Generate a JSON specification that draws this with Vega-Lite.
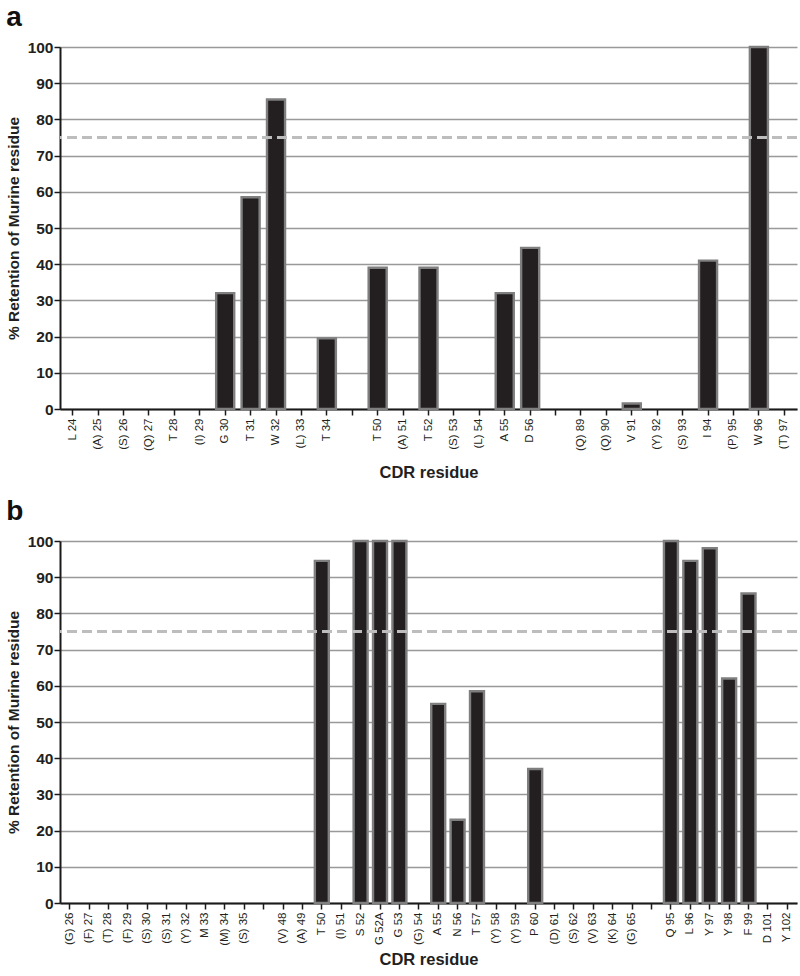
{
  "$schema": "https://vega.github.io/schema/vega-lite/v6.json",
  "padding": {"left": 6, "top": 4, "right": 0, "bottom": 0},
  "background": "white",
  "datasets": {
    "a": [
      {"residue": "L 24", "value": 0},
      {"residue": "(A) 25", "value": 0},
      {"residue": "(S) 26", "value": 0},
      {"residue": "(Q) 27", "value": 0},
      {"residue": "T 28", "value": 0},
      {"residue": "(I) 29", "value": 0},
      {"residue": "G 30", "value": 32},
      {"residue": "T 31", "value": 58.5},
      {"residue": "W 32", "value": 85.5},
      {"residue": "(L) 33", "value": 0},
      {"residue": "T 34", "value": 19.5},
      {"residue": " ", "value": 0},
      {"residue": "T 50", "value": 39},
      {"residue": "(A) 51", "value": 0},
      {"residue": "T 52", "value": 39},
      {"residue": "(S) 53", "value": 0},
      {"residue": "(L) 54", "value": 0},
      {"residue": "A 55", "value": 32},
      {"residue": "D 56", "value": 44.5},
      {"residue": "  ", "value": 0},
      {"residue": "(Q) 89", "value": 0},
      {"residue": "(Q) 90", "value": 0},
      {"residue": "V 91", "value": 1.5},
      {"residue": "(Y) 92", "value": 0},
      {"residue": "(S) 93", "value": 0},
      {"residue": "I 94", "value": 41},
      {"residue": "(P) 95", "value": 0},
      {"residue": "W 96", "value": 100},
      {"residue": "(T) 97", "value": 0}
    ],
    "b": [
      {"residue": "(G) 26", "value": 0},
      {"residue": "(F) 27", "value": 0},
      {"residue": "(T) 28", "value": 0},
      {"residue": "(F) 29", "value": 0},
      {"residue": "(S) 30", "value": 0},
      {"residue": "(S) 31", "value": 0},
      {"residue": "(Y) 32", "value": 0},
      {"residue": "M 33", "value": 0},
      {"residue": "(M) 34", "value": 0},
      {"residue": "(S) 35", "value": 0},
      {"residue": " ", "value": 0},
      {"residue": "(V) 48", "value": 0},
      {"residue": "(A) 49", "value": 0},
      {"residue": "T 50", "value": 94.5},
      {"residue": "(I) 51", "value": 0},
      {"residue": "S 52", "value": 100},
      {"residue": "G 52A", "value": 100},
      {"residue": "G 53", "value": 100},
      {"residue": "(G) 54", "value": 0},
      {"residue": "A 55", "value": 55},
      {"residue": "N 56", "value": 23},
      {"residue": "T 57", "value": 58.5},
      {"residue": "(Y) 58", "value": 0},
      {"residue": "(Y) 59", "value": 0},
      {"residue": "P 60", "value": 37},
      {"residue": "(D) 61", "value": 0},
      {"residue": "(S) 62", "value": 0},
      {"residue": "(V) 63", "value": 0},
      {"residue": "(K) 64", "value": 0},
      {"residue": "(G) 65", "value": 0},
      {"residue": "  ", "value": 0},
      {"residue": "Q 95", "value": 100},
      {"residue": "L 96", "value": 94.5},
      {"residue": "Y 97", "value": 98},
      {"residue": "Y 98", "value": 62},
      {"residue": "F 99", "value": 85.5},
      {"residue": "D 101", "value": 0},
      {"residue": "Y 102", "value": 0}
    ]
  },
  "config": {
    "font": "Liberation Sans",
    "view": {"stroke": null},
    "axis": {
      "domainColor": "#1a1a1a",
      "domainWidth": 2,
      "tickColor": "#1a1a1a",
      "tickWidth": 1.5,
      "tickSize": 6,
      "labelColor": "#231f20",
      "titleColor": "#231f20"
    },
    "axisY": {
      "labelOverlap": false,
      "labelFontSize": 15.5,
      "labelFontWeight": "bold",
      "labelPadding": 1,
      "titleFontSize": 15.5,
      "titleFontWeight": "bold",
      "titlePadding": 6,
      "grid": true,
      "gridColor": "#999999",
      "gridWidth": 1.3
    },
    "title": {"fontSize": 28, "fontWeight": "bold", "anchor": "start", "frame": "bounds", "color": "#111"}
  },
  "vconcat": [
    {
      "title": {"text": "a", "offset": 8},
      "width": 737,
      "height": 362,
      "data": {"name": "a"},
      "encoding": {
        "y": {
          "field": "value", "type": "quantitative",
          "scale": {"domain": [0, 100], "nice": false},
          "axis": {"title": "% Retention of Murine residue", "values": [0, 10, 20, 30, 40, 50, 60, 70, 80, 90, 100], "tickCount": 20}
        }
      },
      "layer": [
        {
          "mark": {"type": "bar", "color": "#231f20", "stroke": "#7f7f7f"},
          "encoding": {
            "x": {
              "field": "residue", "type": "nominal", "sort": null,
              "scale": {"paddingInner": 0.29, "paddingOuter": 0.145},
              "axis": {"title": "CDR residue", "labelAngle": -90, "labelFontSize": 11.5, "labelPadding": 3, "titleFontSize": 16.5, "titleFontWeight": "bold", "titlePadding": 14}
            },
            "strokeWidth": {"condition": {"test": "datum.value > 0", "value": 2.4}, "value": 0}
          }
        },
        {
          "mark": {"type": "rule", "color": "#bdbdbd", "strokeWidth": 3, "strokeDash": [10, 5]},
          "encoding": {"y": {"datum": 75, "type": "quantitative"}}
        }
      ]
    },
    {
      "title": {"text": "b", "offset": 8},
      "width": 737,
      "height": 362,
      "data": {"name": "b"},
      "encoding": {
        "y": {
          "field": "value", "type": "quantitative",
          "scale": {"domain": [0, 100], "nice": false},
          "axis": {"title": "% Retention of Murine residue", "values": [0, 10, 20, 30, 40, 50, 60, 70, 80, 90, 100], "tickCount": 20}
        }
      },
      "layer": [
        {
          "mark": {"type": "bar", "color": "#231f20", "stroke": "#7f7f7f"},
          "encoding": {
            "x": {
              "field": "residue", "type": "nominal", "sort": null,
              "scale": {"paddingInner": 0.28, "paddingOuter": 0.14},
              "axis": {"title": "CDR residue", "labelAngle": -90, "labelFontSize": 11.5, "labelPadding": 3, "titleFontSize": 16.5, "titleFontWeight": "bold", "titlePadding": 6}
            },
            "strokeWidth": {"condition": {"test": "datum.value > 0", "value": 2.4}, "value": 0}
          }
        },
        {
          "mark": {"type": "rule", "color": "#bdbdbd", "strokeWidth": 3, "strokeDash": [10, 5]},
          "encoding": {"y": {"datum": 75, "type": "quantitative"}}
        }
      ]
    }
  ],
  "spacing": 16
}
